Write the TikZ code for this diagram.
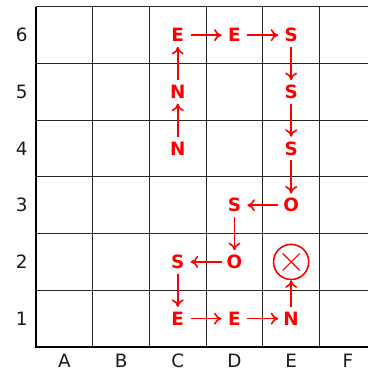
\documentclass[tikz,border=0pt]{standalone}
\usepackage{fontspec}
\setmainfont{DejaVu Sans}
\usetikzlibrary{arrows.meta}
\begin{document}
\begin{tikzpicture}[
  gridline/.style={line width=0.5pt, black!85},
  axisline/.style={line width=0.8pt, black},
  lbl/.style={font=\fontsize{9.2}{11}\selectfont, text=black!90},
  mv/.style={font=\fontsize{9.2}{11}\selectfont\bfseries, text=red, inner sep=0pt,
             minimum width=0.44cm, minimum height=0.4cm},
  conn/.style={-{To[length=3.8pt,width=6pt]}, red, line width=0.8pt},
  goal/.style={circle, draw=red, line width=0.8pt, minimum size=0.62cm, inner sep=0pt,
     path picture={\draw[red, line width=0.6pt]
        ([shift={(-0.15,-0.15)}]path picture bounding box.center) -- ++(0.3,0.3)
        ([shift={(-0.15,0.15)}]path picture bounding box.center) -- ++(0.3,-0.3);}}
]
\clip (-0.635,-0.441) rectangle (5.855,6.12);
% grid
\foreach \i in {1,...,6} \draw[gridline] (\i,0) -- (\i,6);
\foreach \j in {1,...,6} \draw[gridline] (0,\j) -- (6.5,\j);
\draw[axisline] (0,6) -- (0,0) -- (6.5,0);
% labels
\foreach \c [count=\k] in {A,B,C,D,E,F}
  \node[lbl] (col\c) at (\k-0.5,-0.25) {\c};
\foreach \r in {1,...,6}
  \node[lbl] (row\r) at (-0.25,\r-0.5) {\r};
% moves
\node[mv] (c4) at (2.5,3.5) {N};
\node[mv] (c5) at (2.5,4.5) {N};
\node[mv] (c6) at (2.5,5.5) {E};
\node[mv] (d6) at (3.5,5.5) {E};
\node[mv] (e6) at (4.5,5.5) {S};
\node[mv] (e5) at (4.5,4.5) {S};
\node[mv] (e4) at (4.5,3.5) {S};
\node[mv] (e3) at (4.5,2.5) {O};
\node[mv] (d3) at (3.5,2.5) {S};
\node[mv] (d2) at (3.5,1.5) {O};
\node[mv] (c2) at (2.5,1.5) {S};
\node[mv] (c1) at (2.5,0.5) {E};
\node[mv] (d1) at (3.5,0.5) {E};
\node[mv] (e1) at (4.5,0.5) {N};
\node[goal] (e2) at (4.5,1.5) {};
% connectors
\draw[conn] (c4) -- (c5);
\draw[conn] (c5) -- (c6);
\draw[conn] (c6) -- (d6);
\draw[conn] (d6) -- (e6);
\draw[conn] (e6) -- (e5);
\draw[conn] (e5) -- (e4);
\draw[conn] (e4) -- (e3);
\draw[conn] (e3) -- (d3);
\draw[conn] (d3) -- (d2);
\draw[conn] (d2) -- (c2);
\draw[conn] (c2) -- (c1);
\draw[conn] (c1) -- (d1);
\draw[conn] (d1) -- (e1);
\draw[conn] (e1) -- (e2);
\end{tikzpicture}
\end{document}
